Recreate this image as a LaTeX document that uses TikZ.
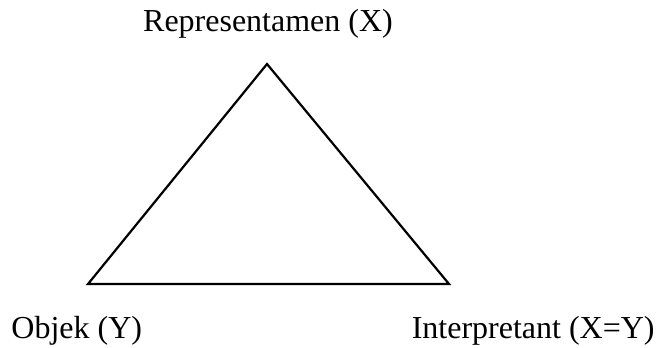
\documentclass[tikz,border=0pt]{standalone}
\usepackage{fontspec}
\setmainfont{Liberation Serif}
\usepackage{tikz}

\begin{document}
\begin{tikzpicture}[x=0.5pt, y=-0.5pt, font=\fontsize{16}{18}\selectfont]
  \useasboundingbox (0,0) rectangle (656,347);
  \coordinate (rep) at (267,64);
  \coordinate (obj) at (88,284);
  \coordinate (int) at (449,284);
  \draw[line width=1.1pt, line join=miter] (rep) -- (obj) -- (int) -- cycle;
  \node[anchor=base] (lrep) at (268,32) {Representamen (X)};
  \node[anchor=base west, inner sep=0pt] (lobj) at (11,338) {Objek (Y)};
  \node[anchor=base east, inner sep=0pt] (lint) at (655,338) {Interpretant (X=Y)};
\end{tikzpicture}
\end{document}
